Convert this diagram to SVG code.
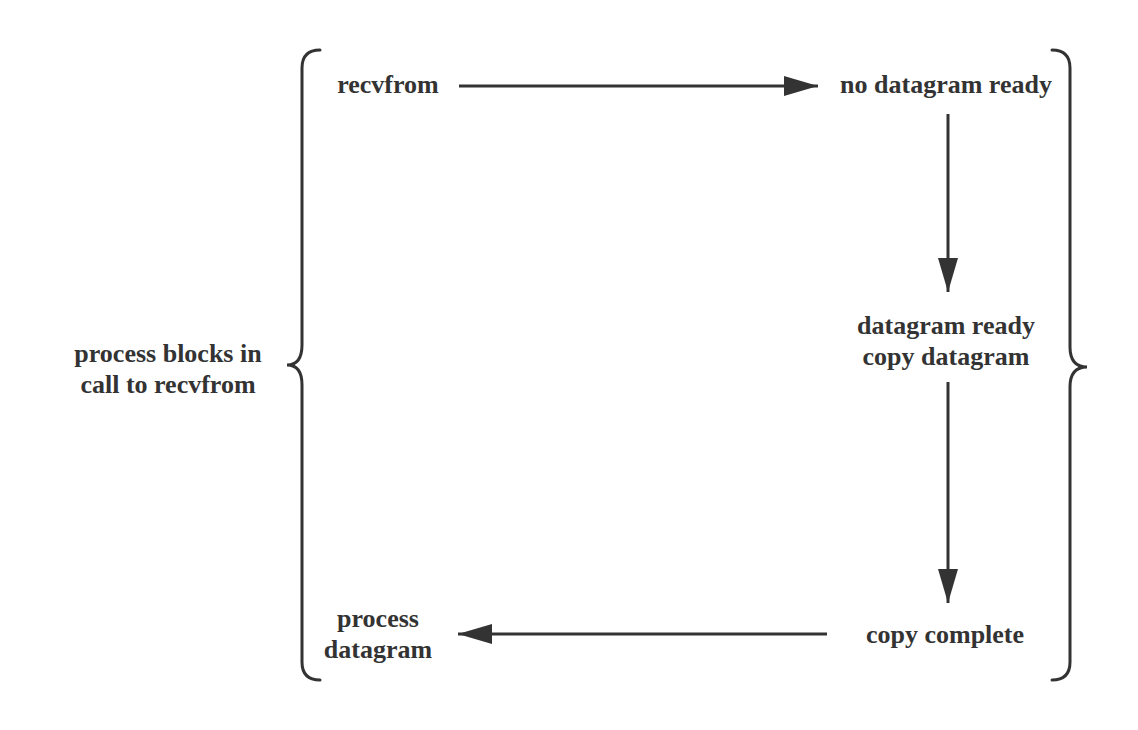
<svg xmlns="http://www.w3.org/2000/svg" width="1138" height="730" viewBox="0 0 1138 730">
<style>
text{font-family:"Liberation Serif","Times New Roman",serif;font-weight:bold;font-size:26px;fill:#333;text-anchor:middle}
.c{stroke:#333;stroke-width:3;fill:none}
.b{stroke:#333;stroke-width:3;fill:none;stroke-linecap:round}
</style>
<defs>
<marker id="ah" viewBox="0 0 34 20" refX="34" refY="10" markerWidth="34" markerHeight="20" markerUnits="userSpaceOnUse" orient="auto">
<path d="M0,0 L34,10 L0,20 Z" fill="#333"/>
</marker>
</defs>
<rect width="1138" height="730" fill="#fff"/>
<g id="brace-left"><path class="b" d="M320,50 Q302,50 302,68 L302,345 Q302,365 287,365 Q302,365 302,385 L302,662 Q302,680 320,680"/></g>
<g id="brace-right"><path class="b" d="M1052,50 Q1070,50 1070,68 L1070,347 Q1070,367 1087,367 Q1070,367 1070,387 L1070,662 Q1070,680 1052,680"/></g>
<g id="label-left"><text x="168" y="362">process blocks in</text><text x="168" y="393">call to recvfrom</text></g>
<g id="n-recvfrom"><text x="388" y="93">recvfrom</text></g>
<g id="n-nodata"><text x="946" y="93">no datagram ready</text></g>
<g id="n-ready"><text x="946" y="334">datagram ready</text><text x="946" y="365">copy datagram</text></g>
<g id="n-complete"><text x="945" y="643">copy complete</text></g>
<g id="n-process"><text x="378" y="627">process</text><text x="378" y="658">datagram</text></g>
<g id="connectors">
<line class="c" x1="459" y1="86" x2="818" y2="86" marker-end="url(#ah)"/>
<line class="c" x1="948" y1="114" x2="948" y2="292" marker-end="url(#ah)"/>
<line class="c" x1="948" y1="382" x2="948" y2="603" marker-end="url(#ah)"/>
<line class="c" x1="827" y1="634" x2="458" y2="634" marker-end="url(#ah)"/>
</g>
</svg>
